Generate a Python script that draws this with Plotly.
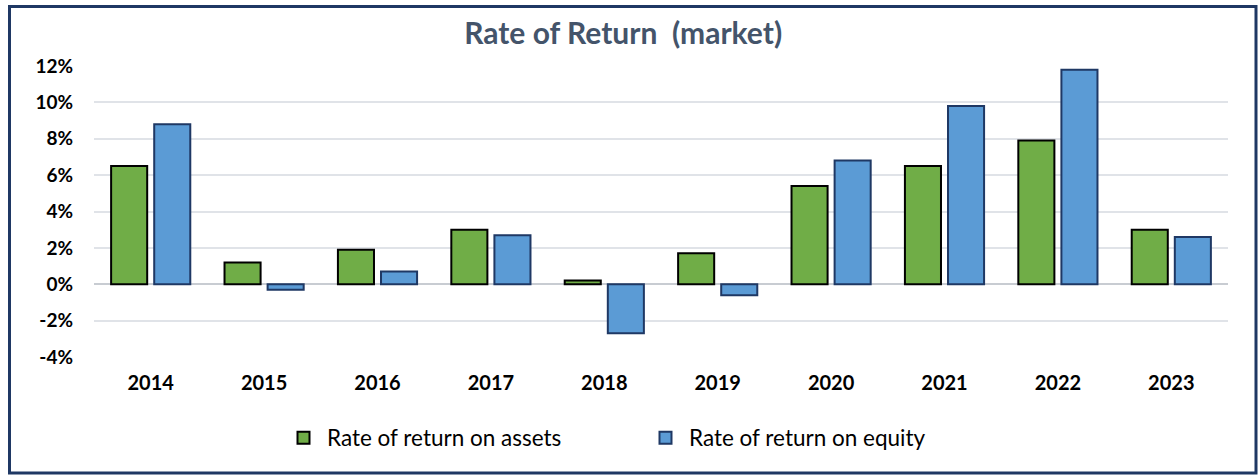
import plotly.graph_objects as go

years = ["2014", "2015", "2016", "2017", "2018", "2019", "2020", "2021", "2022", "2023"]
roa = [6.5, 1.2, 1.9, 3.0, 0.2, 1.7, 5.4, 6.5, 7.9, 3.0]
roe = [8.8, -0.3, 0.7, 2.7, -2.7, -0.6, 6.8, 9.8, 11.8, 2.6]
y_ticks = [-4, -2, 0, 2, 4, 6, 8, 10, 12]
y_tick_labels = [f"{v}%" for v in y_ticks]

font_family = "Lato, Calibri, 'Open Sans', sans-serif"

W, H = 1259, 476
L, R, T, B = 94, 31, 66, 119
pw, ph = W - L - R, H - T - B

fig = go.Figure()
fig.add_trace(go.Bar(
    x=years, y=roa, name="Rate of return on assets",
    marker=dict(color="#70AD47", line=dict(color="#000000", width=2)),
))
fig.add_trace(go.Bar(
    x=years, y=roe, name="Rate of return on equity",
    marker=dict(color="#5B9BD5", line=dict(color="#1F3864", width=2)),
))

fig.update_layout(
    width=W, height=H,
    paper_bgcolor="white", plot_bgcolor="white",
    margin=dict(l=L, r=R, t=T, b=B),
    barmode="group", bargap=0.24, bargroupgap=0.163,
    font=dict(family=font_family, color="#000000"),
    title=dict(
        text="<b>Rate of Return  (market)</b>",
        x=0.495, xref="container", xanchor="center",
        y=1 - 33 / H, yref="container", yanchor="middle",
        font=dict(size=30, color="#44546A", family=font_family),
    ),
    xaxis=dict(
        showgrid=False, showline=False, ticks="",
        tickfont=dict(size=20, family=font_family, weight="bold"),
        ticklabelstandoff=12,
    ),
    yaxis=dict(
        range=[-4, 12], tickvals=y_ticks, ticktext=y_tick_labels,
        showgrid=True, gridcolor="#E0E3E8", gridwidth=1.5,
        zeroline=True, zerolinecolor="#C8CCD2", zerolinewidth=1.5,
        showline=False, ticks="",
        tickfont=dict(size=19, family=font_family, weight="bold"),
        ticklabelstandoff=20,
    ),
    legend=dict(
        orientation="h", x=(280 - L) / pw, xanchor="left",
        y=(ph - (438 - T)) / ph, yanchor="middle",
        font=dict(size=22.5, family=font_family, color="#000000"),
        entrywidth=310, entrywidthmode="pixels", itemwidth=37,
    ),
    shapes=[dict(
        type="rect", xref="paper", yref="paper",
        x0=(9.5 - L) / pw, x1=(1256 - L) / pw,
        y0=(ph - (473 - T)) / ph, y1=(ph - (6.5 - T)) / ph,
        line=dict(color="#1F3864", width=3), fillcolor="rgba(0,0,0,0)",
        layer="below",
    )],
)

fig.write_html(
    "out.html",
    config={"displayModeBar": False},
    post_script="document.body.style.margin='0';document.body.style.overflow='hidden';",
)
